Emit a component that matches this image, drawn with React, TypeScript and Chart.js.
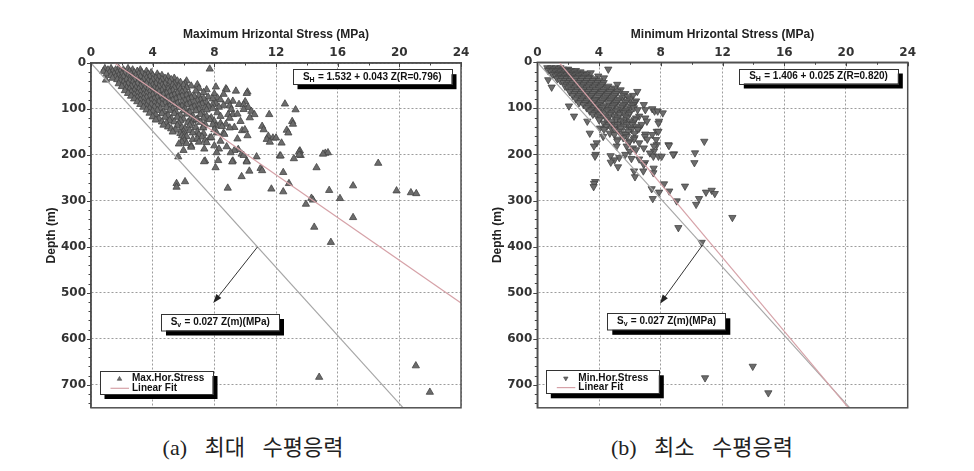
import { useEffect, useRef } from "react";
import { Chart, registerables } from "chart.js";

Chart.register(...registerables);

// ---------- data ----------
const xTickValues = [0, 4, 8, 12, 16, 20, 24];
const yTickValues = [0, 100, 200, 300, 400, 500, 600, 700];
const xMin = 0;
const xMax = 24;
const yMin = 0;
const yMax = 750;

// [stress (MPa), depth (m)]
const maxHorStress: number[][] = [
  [0.9, 12], [1.3, 12], [1.8, 12], [2.4, 12],
  [1.1, 15], [1.6, 15], [2.1, 15], [2.7, 15], [3.2, 15], [7.7, 13],
  [0.8, 18], [1.4, 18], [1.9, 18], [2.5, 18], [3.0, 18], [3.6, 18],
  [1.2, 21], [1.7, 21], [2.2, 21], [2.8, 21], [3.3, 21], [3.9, 21],
  [1.0, 24], [1.5, 24], [2.0, 24], [2.6, 24], [3.1, 24], [3.7, 24], [4.3, 24],
  [1.3, 27], [1.8, 27], [2.4, 27], [2.9, 27], [3.5, 27], [4.0, 27], [4.6, 27],
  [1.6, 30], [2.1, 30], [2.7, 30], [3.2, 30], [3.8, 30], [4.4, 30], [5.0, 30],
  [1.4, 33], [1.9, 33], [2.5, 33], [3.0, 33], [3.6, 33], [4.2, 33], [4.8, 33], [5.4, 33],
  [0.97, 37], [1.7, 36], [2.3, 36], [2.8, 36], [3.4, 36], [4.0, 36], [4.6, 36], [5.2, 36],
  [1.9, 39], [2.5, 39], [3.1, 39], [3.7, 39], [4.3, 39], [4.9, 39], [5.6, 39], [6.2, 39],
  [2.1, 42], [2.7, 42], [3.3, 42], [3.9, 42], [4.5, 42], [5.1, 42], [5.8, 42],
  [1.8, 45], [2.4, 45], [3.0, 45], [3.6, 45], [4.2, 45], [4.8, 45], [5.4, 45], [6.1, 45],
  [2.2, 48], [2.8, 48], [3.4, 48], [4.0, 48], [4.6, 48], [5.3, 48], [6.0, 48], [6.9, 47],
  [2.0, 51], [2.6, 51], [3.2, 51], [3.8, 51], [4.4, 51], [5.0, 51], [5.7, 51], [6.5, 50], [8.1, 52],
  [2.3, 54], [2.9, 54], [3.5, 54], [4.1, 54], [4.7, 54], [5.4, 54], [6.2, 54], [7.0, 55],
  [2.5, 57], [3.1, 57], [3.7, 57], [4.3, 57], [5.0, 57], [5.8, 57], [7.5, 58], [8.75, 56],
  [2.2, 60], [2.8, 60], [3.4, 60], [4.0, 60], [4.6, 60], [5.3, 60], [6.1, 60], [6.8, 61], [9.4, 61], [8.8, 58],
  [2.6, 63], [3.2, 63], [3.8, 63], [4.4, 63], [5.1, 63], [5.9, 63], [7.3, 64], [10.15, 63],
  [2.4, 66], [3.0, 66], [3.6, 66], [4.2, 66], [4.9, 66], [5.6, 66], [6.4, 68], [8.0, 67], [10.1, 66],
  [2.8, 69], [3.4, 69], [4.0, 69], [4.7, 69], [5.4, 69], [6.2, 70], [7.0, 71], [8.6, 68],
  [2.6, 72], [3.2, 72], [3.8, 72], [4.5, 72], [5.2, 72], [5.9, 72], [6.7, 73], [7.6, 74],
  [3.0, 75], [3.6, 75], [4.3, 75], [5.0, 75], [5.7, 75], [6.5, 76], [7.3, 77], [8.2, 76],
  [2.8, 78], [3.4, 78], [4.1, 78], [4.8, 78], [5.5, 78], [6.3, 79], [7.1, 80], [7.9, 78],
  [3.2, 81], [3.9, 81], [4.6, 81], [5.3, 81], [6.1, 82], [6.9, 82], [8.4, 80], [9.2, 83],
  [3.0, 84], [3.7, 84], [4.4, 84], [5.1, 84], [5.9, 85], [6.7, 85], [7.5, 86], [8.9, 84], [10.0, 84],
  [3.4, 87], [4.1, 87], [4.8, 87], [5.6, 88], [6.4, 88], [7.2, 89], [8.1, 88], [12.58, 89],
  [3.2, 90], [3.9, 90], [4.6, 90], [5.4, 91], [6.2, 91], [7.0, 92], [7.9, 90], [8.6, 92], [9.6, 90],
  [3.6, 93], [4.3, 93], [5.1, 94], [5.9, 94], [6.7, 95], [7.6, 94], [9.0, 93], [9.9, 91],
  [3.4, 96], [4.1, 96], [4.9, 97], [5.7, 97], [6.5, 98], [7.4, 97], [8.3, 96], [10.2, 96.5],
  [3.8, 99], [4.5, 99], [5.3, 100], [6.1, 100], [7.0, 101], [7.9, 99], [9.1, 101],
  [3.6, 102], [4.3, 103], [5.1, 103], [6.0, 104], [6.8, 104], [7.5, 102], [9.9, 101], [13.27, 101.6],
  [4.0, 105], [4.7, 106], [5.5, 106], [6.4, 107], [7.2, 108], [8.2, 108], [10.4, 105],
  [3.8, 109], [4.6, 110], [5.4, 110], [6.2, 111], [7.1, 112], [8.9, 112], [9.2, 112],
  [4.2, 113], [5.0, 114], [5.8, 114], [6.6, 115], [7.5, 116], [9.5, 111], [10.6, 112], [11.56, 112],
  [4.0, 117], [4.8, 118], [5.6, 118], [6.5, 119], [7.3, 120], [8.4, 116],
  [4.4, 121], [5.2, 121], [6.0, 122], [6.9, 122], [7.8, 119], [9.0, 120],
  [4.2, 124], [5.1, 125], [5.8, 125], [6.6, 126], [7.7, 123], [10.3, 119], [6.85, 123],
  [4.6, 128], [5.4, 128], [6.3, 129], [7.1, 129], [8.0, 127], [9.7, 127], [13.05, 127],
  [4.9, 131], [5.7, 132], [6.5, 132], [7.4, 133], [8.4, 131], [13.1, 133], [8.75, 133],
  [4.7, 135], [5.6, 136], [6.4, 136], [7.3, 137], [8.1, 137], [11.1, 137.6], [11.2, 145],
  [5.0, 139], [5.9, 140], [6.8, 140], [7.9, 134], [8.5, 138], [9.3, 140],
  [5.2, 143], [6.1, 143], [7.28, 141], [9.0, 141], [8.0, 145],
  [5.5, 146], [6.4, 147], [5.3, 150], [6.0, 149], [6.9, 150], [9.8, 147], [12.7, 146], [9.98, 145],
  [5.8, 153], [6.6, 152], [7.3, 153], [8.6, 152], [8.15, 152], [12.8, 152],
  [6.0, 156], [7.0, 156], [8.65, 155], [5.9, 158],
  [6.2, 160], [7.2, 161], [11.5, 159], [10.15, 158],
  [6.0, 163], [7.7, 163], [7.8, 162], [11.8, 163], [12.0, 163],
  [6.6, 166], [6.9, 165], [9.5, 165], [6.05, 169], [7.4, 168], [11.4, 166],
  [5.9, 172], [7.0, 172], [8.4, 170], [11.6, 172], [5.7, 176], [6.2, 175], [7.5, 173], [12.36, 174],
  [6.5, 180], [8.0, 180], [6.5, 183], [8.8, 182],
  [7.35, 187], [8.3, 187], [9.55, 188], [6.0, 190], [9.3, 190], [13.55, 191],
  [8.15, 195], [9.06, 195], [15.2, 196], [15.37, 195], [9.77, 198], [13.5, 193], [15.05, 198],
  [9.9, 201], [12.25, 202], [13.6, 201], [13.5, 200], [5.66, 204], [10.74, 204], [12.3, 202],
  [13.16, 208], [8.25, 212], [7.4, 213], [9.2, 213], [10.1, 213], [7.33, 214.6], [9.16, 215], [10.1, 215],
  [18.63, 218], [8.08, 227.6], [14.63, 227.6], [11.0, 229], [11.1, 234], [10.27, 235], [12.47, 238],
  [9.77, 247], [6.1, 258], [5.55, 262], [5.55, 270], [12.84, 262], [17.0, 267], [8.87, 272],
  [11.7, 274], [15.45, 277], [19.82, 278], [12.47, 280], [20.75, 282], [21.1, 284],
  [14.3, 294], [14.4, 298], [16.15, 294.6], [13.94, 307], [17.0, 336], [14.48, 357], [15.56, 390],
  [14.8, 683.5], [21.07, 658.5], [21.98, 716],
];

const minHorStress: number[][] = [
  [0.65, 12], [0.9, 12], [1.2, 12], [1.5, 12],
  [0.8, 15], [1.1, 15], [1.4, 15], [1.7, 15], [2.0, 15], [4.6, 15],
  [0.7, 18], [1.0, 18], [1.3, 18], [1.6, 18], [1.9, 18], [2.2, 18], [2.5, 18],
  [0.9, 21], [1.2, 21], [1.5, 21], [1.8, 21], [2.1, 21], [2.4, 21], [2.8, 21],
  [1.1, 24], [1.4, 24], [1.7, 24], [2.0, 24], [2.3, 24], [2.6, 24], [3.0, 24], [3.46, 23],
  [1.0, 27], [1.3, 27], [1.6, 27], [1.9, 27], [2.2, 27], [2.5, 27], [2.9, 27], [3.2, 27],
  [1.2, 30], [1.5, 30], [1.8, 30], [2.1, 30], [2.4, 30], [2.7, 30], [3.1, 30], [3.95, 30],
  [1.4, 33], [1.7, 33], [2.0, 33], [2.3, 33], [2.6, 33], [3.0, 33], [3.4, 33], [4.32, 34],
  [1.3, 36], [1.6, 36], [1.9, 36], [2.2, 36], [2.5, 36], [2.9, 36], [3.3, 36], [3.7, 36], [0.71, 38],
  [1.5, 40], [1.8, 40], [2.1, 40], [2.4, 40], [2.8, 40], [3.2, 40], [3.6, 40], [4.0, 40],
  [1.7, 44], [2.0, 44], [2.3, 44], [2.7, 44], [3.1, 44], [3.5, 44], [3.9, 44], [4.3, 44],
  [1.9, 48], [2.2, 48], [2.6, 48], [3.0, 48], [3.4, 48], [3.8, 48], [4.2, 48], [5.18, 48],
  [1.8, 52], [2.1, 52], [2.5, 52], [2.9, 52], [3.3, 52], [3.7, 52], [4.1, 52], [4.6, 52], [0.93, 54],
  [2.0, 56], [2.4, 56], [2.8, 56], [3.2, 56], [3.6, 56], [4.0, 56], [4.5, 56], [5.0, 56],
  [2.2, 60], [2.6, 60], [3.0, 60], [3.4, 60], [3.8, 60], [4.3, 60], [4.8, 60], [5.4, 60],
  [2.1, 64], [2.5, 64], [2.9, 64], [3.3, 64], [3.7, 64], [4.2, 64], [4.7, 64], [5.2, 64], [6.48, 63.5],
  [2.4, 68], [2.8, 68], [3.2, 68], [3.6, 68], [4.1, 68], [4.6, 68], [5.1, 68], [5.7, 68],
  [2.3, 72], [2.7, 72], [3.1, 72], [3.5, 72], [4.0, 72], [4.5, 72], [5.0, 72], [5.6, 72], [6.2, 72],
  [2.6, 76], [3.0, 76], [3.4, 76], [3.9, 76], [4.4, 76], [4.9, 76], [5.5, 76], [5.87, 75],
  [2.5, 80], [2.9, 80], [3.3, 80], [3.78, 81], [4.3, 80], [4.8, 80], [5.3, 80], [6.0, 80],
  [2.8, 84], [3.2, 84], [3.7, 84], [4.2, 84], [4.7, 84], [5.2, 84], [5.8, 84], [6.4, 84],
  [2.7, 88], [3.1, 88], [3.6, 88], [4.1, 88], [4.6, 88], [5.1, 88], [5.7, 88], [6.3, 88],
  [3.0, 92], [3.5, 92], [4.0, 92], [4.54, 95], [5.0, 92], [5.6, 92], [6.2, 92], [6.9, 92],
  [2.05, 95], [3.3, 95], [3.8, 95], [4.3, 95], [4.9, 95], [5.5, 95], [6.1, 95],
  [3.2, 99], [3.7, 99], [4.2, 99], [4.8, 99], [5.4, 99], [6.0, 99], [6.26, 99], [7.45, 101],
  [3.5, 103], [4.0, 103], [4.6, 103], [5.2, 103], [5.8, 103], [6.5, 103], [7.0, 103],
  [3.4, 106], [3.9, 106], [4.5, 106], [5.1, 106], [5.7, 106], [7.6, 106], [7.8, 106],
  [3.7, 110], [4.2, 110], [4.8, 110], [5.4, 110], [5.6, 110], [6.0, 110], [8.13, 110],
  [3.6, 113], [4.0, 113], [4.7, 113], [5.3, 113], [5.9, 113], [6.6, 117],
  [2.38, 117], [3.9, 117], [4.4, 117], [5.0, 117], [5.7, 117],
  [4.1, 121], [4.6, 121], [5.2, 121], [5.8, 121], [6.4, 121], [7.0, 121],
  [4.0, 125], [4.5, 125], [5.1, 125], [5.6, 125], [6.3, 125],
  [3.24, 128], [4.8, 128], [5.4, 128], [6.0, 128], [7.1, 128], [7.89, 128],
  [4.3, 132], [4.97, 135], [5.6, 132], [6.2, 132], [7.85, 132],
  [4.6, 135], [5.2, 135], [5.79, 135], [6.15, 135], [6.76, 135],
  [4.5, 139], [5.0, 139], [5.6, 139], [6.4, 139],
  [4.06, 143], [4.8, 143], [5.4, 143], [6.0, 143], [6.6, 143],
  [4.32, 146], [5.0, 146], [6.1, 146], [6.5, 146],
  [3.4, 154], [5.3, 150], [5.9, 150], [7.74, 150], [7.85, 150],
  [4.7, 154], [5.5, 154], [6.3, 154], [7.0, 156],
  [5.0, 157], [5.7, 157], [7.45, 157],
  [4.27, 161], [5.8, 161], [6.98, 161], [5.57, 164], [6.3, 164],
  [5.2, 167], [6.26, 167], [7.13, 167], [7.7, 168],
  [5.18, 171], [6.0, 171], [10.82, 171.6], [3.85, 175], [5.9, 175], [6.6, 175],
  [7.74, 179], [8.5, 179], [8.53, 181], [3.67, 182], [5.14, 182], [5.79, 182], [7.56, 182],
  [6.2, 186], [6.9, 186], [6.4, 190], [6.0, 193], [7.56, 193],
  [7.3, 197], [10.22, 196.7], [8.86, 199], [5.7, 200], [8.8, 200], [3.78, 200],
  [3.74, 204], [4.75, 203], [5.31, 207], [7.52, 204], [7.85, 204], [8.06, 204],
  [6.1, 209], [6.6, 210], [5.0, 212], [4.76, 217], [6.98, 218], [10.18, 218],
  [6.9, 222], [5.23, 227], [7.54, 230], [6.27, 236], [6.87, 236], [7.52, 240], [6.33, 248.6],
  [3.75, 259], [3.68, 263], [3.65, 270], [8.21, 264], [9.57, 269], [7.41, 274.6], [8.55, 279.6],
  [7.89, 282], [10.93, 282], [11.3, 278], [11.5, 285], [7.48, 296], [10.48, 296], [9.03, 301],
  [10.29, 308.5], [12.64, 337], [9.14, 359], [10.65, 391],
  [10.87, 685], [13.96, 660], [14.97, 717.6],
];

const maxFitLine = [[1.532, 0], [24, 522]];
const minFitLine = [[1.406, 0], [20.16, 750]];
const overburdenLine = [[0, 0], [20.25, 750]];
const maxArrow = [[10.8, 400], [7.93, 522]];
const minArrow = [[10.72, 396], [7.95, 524]];

const maxTitle = "Maximum Hrizontal Stress (MPa)";
const minTitle = "Minimum Hrizontal Stress (MPa)";
const depthTitle = "Depth (m)";
const maxEquation = ["S", "H", " = 1.532 + 0.043 Z(R=0.796)"];
const minEquation = ["S", "H", " = 1.406 + 0.025 Z(R=0.820)"];
const svEquation = ["S", "v", " = 0.027 Z(m)(MPa)"];
const maxLegend = ["Max.Hor.Stress", "Linear Fit"];
const minLegend = ["Min.Hor.Stress", "Linear Fit"];
const captionA = "(a) 최대 수평응력";
const captionB = "(b) 최소 수평응력";

// ---------- styles ----------
const W = 487;
const H = 420;
const ARIAL = "'Liberation Sans', Arial, sans-serif";
const FIT_COLOR = "#d6a2a8";
const SV_COLOR = "#a6a6a6";
const MARK_FILL = "#6c6c6c";
const MARK_EDGE = "#444444";

type Area = { l: number; r: number; t: number; b: number };
type PanelProps = {
  left: number;
  area: Area;
  yTitleX: number;
  title: string;
  points: number[][];
  fit: number[][];
  arrow: number[][];
  equation: string[];
  legend: string[];
  down: boolean;
};

function drawTriangle(ctx: CanvasRenderingContext2D, cx: number, cy: number, r: number, down: boolean) {
  const s = down ? -1 : 1;
  ctx.beginPath();
  ctx.moveTo(cx, cy - s * r);
  ctx.lineTo(cx - r * 0.866, cy + s * r * 0.5);
  ctx.lineTo(cx + r * 0.866, cy + s * r * 0.5);
  ctx.closePath();
  ctx.fill();
  ctx.stroke();
}

function drawShadowBox(ctx: CanvasRenderingContext2D, x: number, y: number, w: number, h: number) {
  ctx.fillStyle = "#000";
  ctx.fillRect(x + 5, y + 5, w, h);
  ctx.fillStyle = "#fff";
  ctx.fillRect(x, y, w, h);
  ctx.strokeStyle = "#333";
  ctx.lineWidth = 1;
  ctx.strokeRect(Math.round(x) + 0.5, Math.round(y) + 0.5, w, h);
}

function drawEquation(ctx: CanvasRenderingContext2D, parts: string[], cx: number, cy: number) {
  const big = `bold 10px ${ARIAL}`;
  const small = `bold 7px ${ARIAL}`;
  ctx.font = big;
  const w0 = ctx.measureText(parts[0]).width;
  const w2 = ctx.measureText(parts[2]).width;
  ctx.font = small;
  const w1 = ctx.measureText(parts[1]).width;
  let sx = cx - (w0 + w1 + w2) / 2;
  ctx.fillStyle = "#111";
  ctx.textAlign = "left";
  ctx.textBaseline = "middle";
  ctx.font = big;
  ctx.fillText(parts[0], sx, cy);
  sx += w0;
  ctx.font = small;
  ctx.fillText(parts[1], sx, cy + 3);
  sx += w1 + 0.5;
  ctx.font = big;
  ctx.fillText(parts[2], sx, cy);
}

function Panel(p: PanelProps) {
  const ref = useRef<HTMLCanvasElement>(null);
  useEffect(() => {
    if (!ref.current) return;
    const toXY = (arr: number[][]) => arr.map(([x, y]) => ({ x, y }));
    const tickFont = { family: "'DejaVu Sans', sans-serif", size: 12, weight: "bold" as const };
    const titleFont = { family: ARIAL, size: 12, weight: "bold" as const };

    const decor = {
      id: "decor",
      afterDraw(chart: any) {
        const { ctx, chartArea: a } = chart;
        const xs = chart.scales.x;
        const ys = chart.scales.y;
        ctx.save();
        // frame
        ctx.strokeStyle = "#505050";
        ctx.lineWidth = 1.5;
        ctx.strokeRect(a.left, a.top, a.right - a.left, a.bottom - a.top);
        // tick marks
        ctx.strokeStyle = "#444";
        ctx.lineWidth = 1;
        for (let i = 0; i <= 12; i++) {
          const v = i * 2;
          const px = Math.round(xs.getPixelForValue(v)) + 0.5;
          const major = i % 2 === 0;
          ctx.beginPath();
          ctx.moveTo(px, a.top);
          ctx.lineTo(px, a.top + (major ? 4 : 2.5));
          ctx.stroke();
        }
        for (let i = 0; i <= 37; i++) {
          const v = i * 20;
          const py = Math.round(ys.getPixelForValue(v)) + 0.5;
          const major = v % 100 === 0;
          ctx.beginPath();
          ctx.moveTo(a.left - (major ? 4 : 2.5), py);
          ctx.lineTo(a.left, py);
          ctx.stroke();
        }
        // arrow
        const ax0 = xs.getPixelForValue(p.arrow[0][0]);
        const ay0 = ys.getPixelForValue(p.arrow[0][1]);
        const ax1 = xs.getPixelForValue(p.arrow[1][0]);
        const ay1 = ys.getPixelForValue(p.arrow[1][1]);
        const ang = Math.atan2(ay1 - ay0, ax1 - ax0);
        ctx.strokeStyle = "#333";
        ctx.fillStyle = "#222";
        ctx.lineWidth = 1;
        ctx.beginPath();
        ctx.moveTo(ax0, ay0);
        ctx.lineTo(ax1 - 6 * Math.cos(ang), ay1 - 6 * Math.sin(ang));
        ctx.stroke();
        ctx.beginPath();
        ctx.moveTo(ax1, ay1);
        ctx.lineTo(ax1 - 9 * Math.cos(ang) + 3.2 * Math.sin(ang), ay1 - 9 * Math.sin(ang) - 3.2 * Math.cos(ang));
        ctx.lineTo(ax1 - 9 * Math.cos(ang) - 3.2 * Math.sin(ang), ay1 - 9 * Math.sin(ang) + 3.2 * Math.cos(ang));
        ctx.closePath();
        ctx.fill();

        // equation box
        const ex = a.left + 201.5, ey = a.top + 6.2, ew = 159, eh = 15;
        drawShadowBox(ctx, ex, ey, ew, eh);
        drawEquation(ctx, p.equation, ex + ew / 2, ey + eh / 2 + 0.5);
        // Sv box
        const sx = a.left + 70, sy = a.top + 251, sw = 118, sh = 16.5;
        drawShadowBox(ctx, sx, sy, sw, sh);
        drawEquation(ctx, svEquation, sx + sw / 2, sy + sh / 2);
        // legend
        const L = a.left + 8.5, T = a.top + 308, lw = 113, lh = 23;
        drawShadowBox(ctx, L, T, lw, lh);
        ctx.fillStyle = MARK_FILL;
        ctx.strokeStyle = MARK_EDGE;
        ctx.lineWidth = 0.6;
        drawTriangle(ctx, L + 20, T + 8, 2.6, p.down);
        ctx.strokeStyle = FIT_COLOR;
        ctx.lineWidth = 1.2;
        ctx.beginPath();
        ctx.moveTo(L + 11, T + 17.3);
        ctx.lineTo(L + 29.5, T + 17.3);
        ctx.stroke();
        ctx.fillStyle = "#111";
        ctx.font = `bold 10px ${ARIAL}`;
        ctx.textAlign = "left";
        ctx.textBaseline = "middle";
        ctx.fillText(p.legend[0], L + 32.5, T + 7.5);
        ctx.fillText(p.legend[1], L + 32.5, T + 16.8);
        ctx.restore();
      },
    };

    const chart = new Chart(ref.current, {
      type: "scatter",
      data: {
        datasets: [
          {
            data: toXY(p.fit),
            showLine: true,
            borderColor: FIT_COLOR,
            borderWidth: 1.2,
            pointRadius: 0,
          },
          {
            data: toXY(overburdenLine),
            showLine: true,
            borderColor: SV_COLOR,
            borderWidth: 1.2,
            pointRadius: 0,
          },
          {
            data: toXY(p.points),
            pointStyle: "triangle",
            pointRadius: 4.2,
            pointRotation: p.down ? 180 : 0,
            backgroundColor: MARK_FILL,
            borderColor: MARK_EDGE,
            borderWidth: 0.8,
          },
        ],
      },
      options: {
        animation: false,
        responsive: false,
        maintainAspectRatio: false,
        events: [],
        layout: { padding: { left: 0, top: 0, right: W - p.area.r, bottom: H - p.area.b } },
        plugins: { legend: { display: false }, tooltip: { enabled: false } },
        scales: {
          x: {
            type: "linear",
            position: "top",
            min: xMin,
            max: xMax,
            afterBuildTicks: (s: any) => {
              s.ticks = xTickValues.map((v) => ({ value: v }));
            },
            afterFit: (s: any) => {
              s.height = p.area.t;
            },
            ticks: { font: tickFont, color: "#333", padding: 2.5, autoSkip: false, maxRotation: 0 },
            grid: { color: "#9c9c9c", lineWidth: 1, drawTicks: false },
            border: { display: true, color: "#505050", width: 1.5, dash: [2, 2] },
            title: {
              display: true,
              text: p.title,
              font: titleFont,
              color: "#222",
              padding: { top: 27.5, bottom: 0 },
            },
          },
          y: {
            type: "linear",
            position: "left",
            reverse: true,
            min: yMin,
            max: yMax,
            afterBuildTicks: (s: any) => {
              s.ticks = [...yTickValues].reverse().map((v) => ({ value: v }));
            },
            afterFit: (s: any) => {
              s.width = p.area.l;
            },
            ticks: { font: tickFont, color: "#333", padding: 5, autoSkip: false },
            grid: { color: "#9c9c9c", lineWidth: 1, drawTicks: false },
            border: { display: true, color: "#505050", width: 1.5, dash: [2, 2] },
            title: {
              display: true,
              text: depthTitle,
              font: titleFont,
              color: "#222",
              padding: { top: p.yTitleX - 7.2, bottom: 0 },
            },
          },
        },
      },
      plugins: [decor],
    } as any);
    return () => chart.destroy();
  }, []);
  return (
    <canvas
      ref={ref}
      width={W}
      height={H}
      style={{ position: "absolute", left: p.left, top: 0, width: W, height: H }}
    />
  );
}

const captionStyle: any = {
  position: "absolute",
  top: 434,
  width: 260,
  textAlign: "center",
  fontFamily: "'Liberation Serif', 'Noto Sans CJK KR', serif",
  fontSize: 22,
  lineHeight: "28px",
  color: "#222",
  wordSpacing: 12,
  whiteSpace: "nowrap",
};

export default function App() {
  return (
    <div style={{ position: "absolute", left: 0, top: 0, width: 974, height: 471, background: "#fff", overflow: "hidden" }}>
      <Panel
        left={0}
        area={{ l: 91, r: 461, t: 63, b: 410.5 }}
        yTitleX={51.7}
        title={maxTitle}
        points={maxHorStress}
        fit={maxFitLine}
        arrow={maxArrow}
        equation={maxEquation}
        legend={maxLegend}
        down={false}
      />
      <Panel
        left={487}
        area={{ l: 50.3, r: 420.7, t: 62.3, b: 409 }}
        yTitleX={11}
        title={minTitle}
        points={minHorStress}
        fit={minFitLine}
        arrow={minArrow}
        equation={minEquation}
        legend={minLegend}
        down={true}
      />
      <div style={{ ...captionStyle, left: 253 - 130 }}>{captionA}</div>
      <div style={{ ...captionStyle, left: 702 - 130 }}>{captionB}</div>
    </div>
  );
}
